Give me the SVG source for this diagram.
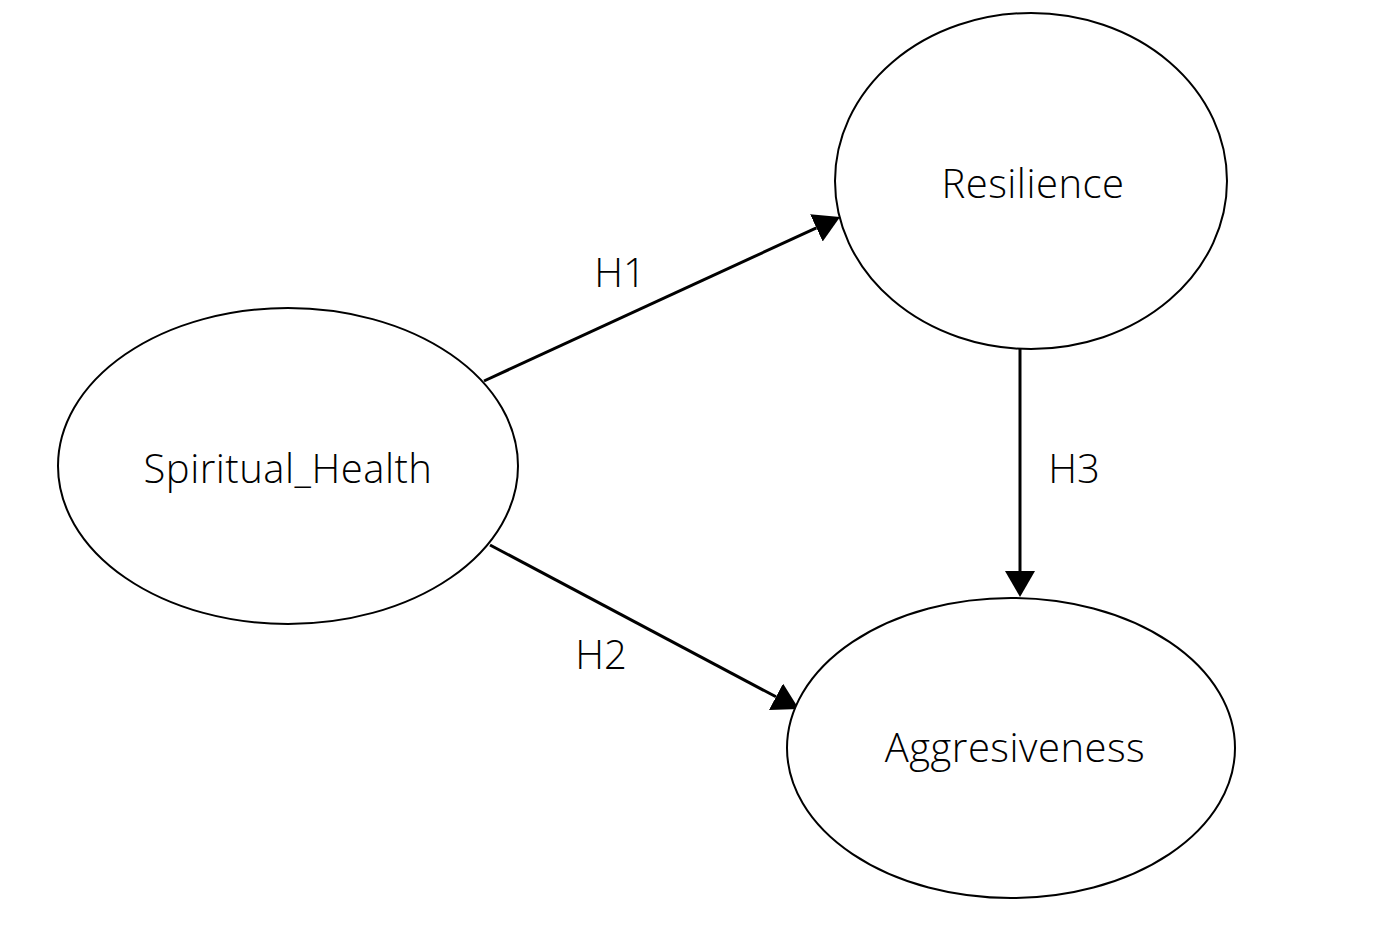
<svg xmlns="http://www.w3.org/2000/svg" width="1390" height="925" viewBox="0 0 1390 925">
<defs>
<marker id="arr" markerUnits="userSpaceOnUse" markerWidth="27" markerHeight="30" refX="0" refY="15" orient="auto">
<path d="M0,0 L26,15 L0,30 z" fill="#000"/>
</marker>
<style>
.node ellipse{fill:#fff;stroke:#000;stroke-width:2}
.lbl{font-family:"Open Sans","Noto Sans",sans-serif;font-weight:300;font-size:40px;fill:#000;text-anchor:middle}
.node .lbl{letter-spacing:0.5px}
.edge{stroke:#000;stroke-width:3;fill:none;marker-end:url(#arr)}
</style>
</defs>
<rect width="1390" height="925" fill="#fff"/>
<g id="connectors">
<line class="edge" x1="484" y1="381" x2="816.4" y2="227.9"/>
<line class="edge" x1="490" y1="545" x2="776" y2="696.8"/>
<line class="edge" x1="1020" y1="348" x2="1020" y2="571"/>
<text class="lbl" x="620" y="287">H1</text>
<text class="lbl" x="601" y="669">H2</text>
<text class="lbl" x="1074" y="483">H3</text>
</g>
<g id="spiritual_health" class="node">
<ellipse cx="288" cy="466" rx="230" ry="158"/>
<text class="lbl" x="288" y="483">Spiritual_Health</text>
</g>
<g id="resilience" class="node">
<ellipse cx="1031" cy="181" rx="196" ry="168"/>
<text class="lbl" x="1033" y="198">Resilience</text>
</g>
<g id="aggresiveness" class="node">
<ellipse cx="1011" cy="748" rx="224" ry="150"/>
<text class="lbl" x="1015" y="762">Aggresiveness</text>
</g>
</svg>
